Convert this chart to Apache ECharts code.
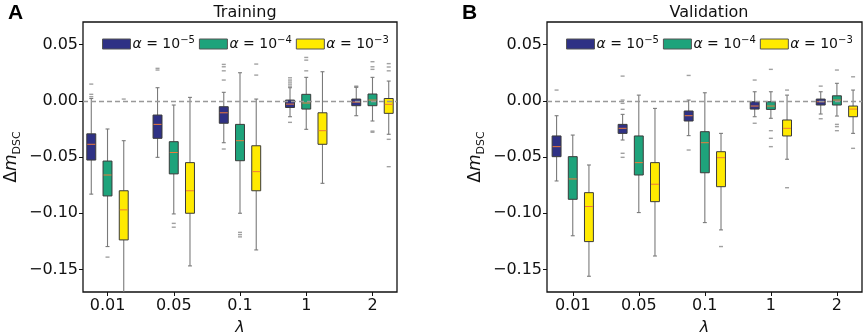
<!DOCTYPE html>
<html>
<head>
<meta charset="utf-8">
<script src="https://cdn.jsdelivr.net/npm/echarts@6/dist/echarts.min.js"></script>
<style>
  html, body { margin: 0; padding: 0; background: #fff; }
  #chart { width: 865px; height: 335px; }
</style>
</head>
<body>
<div id="chart"></div>
<script>
// lambda categories and alpha groups
var lambdas = ['0.01', '0.05', '0.1', '1', '2'];
var alphaExps = ['\u22125', '\u22124', '\u22123'];
var alphaColors = ['#2f3185', '#1ea37b', '#ffea00'];
var yTicks = [-0.15, -0.1, -0.05, 0, 0.05];

// box rows: [lowWhisker, q1, median, q3, highWhisker], one per lambda
var trainA5 = [
  [-0.083, -0.0527, -0.0387, -0.0294, 0.002],
  [-0.0503, -0.0334, -0.021, -0.0127, 0.0116],
  [-0.0373, -0.020, -0.0107, -0.0053, 0.0075],
  [-0.0142, -0.006, -0.003, 0.0006, 0.0116],
  [-0.0133, -0.0044, -0.0012, 0.0015, 0.0119]
];
var trainA4 = [
  [-0.1296, -0.0846, -0.066, -0.0536, -0.0251],
  [-0.1006, -0.065, -0.046, -0.0364, -0.0038],
  [-0.100, -0.0533, -0.0355, -0.021, 0.0249],
  [-0.0254, -0.0074, -0.002, 0.0057, 0.0208],
  [-0.018, -0.0044, 0.0006, 0.006, 0.0208]
];
var trainA3 = [
  [-0.18, -0.1237, -0.097, -0.080, -0.0355],
  [-0.1468, -0.100, -0.080, -0.055, 0.003],
  [-0.1326, -0.080, -0.063, -0.040, 0.0015],
  [-0.0734, -0.0387, -0.0266, -0.0107, 0.0258],
  [-0.0298, -0.0112, -0.0032, 0.002, 0.0175]
];
var valA5 = [
  [-0.0713, -0.0497, -0.0408, -0.0313, -0.0133],
  [-0.0349, -0.029, -0.0245, -0.021, -0.0121],
  [-0.031, -0.018, -0.0133, -0.0091, 0.0006],
  [-0.0142, -0.0074, -0.0047, -0.0009, 0.008],
  [-0.0118, -0.0038, -0.0009, 0.0015, 0.008]
];
var valA4 = [
  [-0.120, -0.0876, -0.0695, -0.0497, -0.0305],
  [-0.0994, -0.066, -0.055, -0.0313, 0.005],
  [-0.1083, -0.064, -0.0373, -0.0275, 0.0071],
  [-0.0156, -0.0077, -0.0047, -0.0009, 0.008],
  [-0.0136, -0.0038, 0.0006, 0.0044, 0.0155]
];
var valA3 = [
  [-0.156, -0.1252, -0.094, -0.0817, -0.0571],
  [-0.138, -0.0897, -0.0742, -0.055, -0.0068],
  [-0.1148, -0.0764, -0.0506, -0.0453, -0.029],
  [-0.052, -0.0313, -0.0245, -0.0171, 0.005],
  [-0.029, -0.0142, -0.0074, -0.0047, 0.0095]
];

// outliers: [lambdaIndex, value]
var trainOutA5 = [[0, 0.0148], [0, 0.0057], [0, 0.0036], [1, 0.0288], [1, 0.0273], [2, 0.0323], [2, 0.0302], [2, 0.0266], [2, 0.0184], [2, -0.0429],
  [3, 0.0204], [3, 0.0184], [3, 0.0166], [3, 0.0148], [3, 0.013], [3, -0.0192], [4, 0.013], [4, 0.0125]];
var trainOutA4 = [[0, -0.139], [1, -0.109], [1, -0.1124], [2, -0.117], [2, -0.119], [2, -0.121], [3, 0.0385], [3, 0.0361], [3, 0.0266],
  [4, 0.0347], [4, 0.0302], [4, 0.0279], [4, -0.027], [4, -0.028]];
var trainOutA3 = [[0, 0.0015], [2, 0.0326], [2, 0.0228], [4, 0.033], [4, 0.030], [4, 0.0266], [4, -0.0343], [4, -0.0586]];
var valOutA5 = [[0, 0.0095], [1, 0.0219], [1, 0.0006], [1, -0.0023], [1, -0.0076], [1, -0.0467], [1, -0.0503], [2, 0.0225], [2, -0.0438],
  [3, 0.0184], [3, -0.020], [4, 0.013], [4, -0.016]];
var valOutA4 = [[3, 0.0279], [3, -0.0266], [3, -0.0334], [3, -0.0408], [4, 0.0273], [4, -0.021], [4, -0.023], [4, -0.0266]];
var valOutA3 = [[2, -0.1296], [3, 0.0095], [3, -0.0773], [4, 0.0213], [4, -0.0423]];

var FONT = 'DejaVu Sans';
var groupOffset = [-0.245, 0, 0.245];
var boxW = 0.135;
var alphaNames = alphaExps.map(function (e) { return '\u03b1 = 10' + e; });

function fmtY(v) {
  return (v < -1e-9 ? '\u2212' : '') + Math.abs(v).toFixed(2);
}

function boxSeries(panel, k, rows) {
  return {
    type: 'custom', name: alphaNames[k], xAxisIndex: panel, yAxisIndex: panel,
    clip: true, z: 3,
    itemStyle: { color: alphaColors[k] },
    data: rows.map(function (r, i) { return [i].concat(r); }),
    renderItem: function (params, api) {
      var x = api.value(0) + groupOffset[k];
      var lo = api.coord([x, api.value(1)]);
      var q1 = api.coord([x, api.value(2)]);
      var md = api.coord([x, api.value(3)]);
      var q3 = api.coord([x, api.value(4)]);
      var hi = api.coord([x, api.value(5)]);
      var w = api.size([boxW, 0])[0];
      var cw = w * 0.22;
      var wl = { stroke: '#7a7a7a', lineWidth: 1.1 };
      return {
        type: 'group',
        children: [
          { type: 'line', shape: { x1: q3[0], y1: q3[1], x2: hi[0], y2: hi[1] }, style: wl },
          { type: 'line', shape: { x1: q1[0], y1: q1[1], x2: lo[0], y2: lo[1] }, style: wl },
          { type: 'line', shape: { x1: hi[0] - cw, y1: hi[1], x2: hi[0] + cw, y2: hi[1] }, style: wl },
          { type: 'line', shape: { x1: lo[0] - cw, y1: lo[1], x2: lo[0] + cw, y2: lo[1] }, style: wl },
          { type: 'rect', shape: { x: q3[0] - w / 2, y: q3[1], width: w, height: q1[1] - q3[1] },
            style: { fill: alphaColors[k], stroke: '#3a3a3a', lineWidth: 1 } },
          { type: 'line', shape: { x1: md[0] - w / 2 + 0.5, y1: md[1], x2: md[0] + w / 2 - 0.5, y2: md[1] },
            style: { stroke: '#ee7a3a', lineWidth: 1 } }
        ]
      };
    }
  };
}

function outlierSeries(panel, k, pts) {
  return {
    type: 'scatter', name: alphaNames[k], xAxisIndex: panel, yAxisIndex: panel,
    symbol: 'rect', symbolSize: [4, 1.4], z: 4, silent: true,
    itemStyle: { color: '#8a8a8a' },
    data: pts.map(function (p) { return [p[0] + groupOffset[k], p[1]]; })
  };
}

function zeroLine(panel) {
  return {
    type: 'line', xAxisIndex: panel, yAxisIndex: panel, data: [], z: 2, silent: true,
    markLine: {
      silent: true, symbol: 'none', label: { show: false },
      lineStyle: { color: '#999', type: [5, 3], width: 1.3 },
      data: [{ yAxis: 0 }]
    }
  };
}

function xAxisOpt(grid, mn, mx) {
  return {
    type: 'value', gridIndex: grid, min: mn, max: mx,
    name: '\u03bb', nameLocation: 'middle', nameGap: 28,
    nameTextStyle: { fontFamily: FONT, fontSize: 16, fontStyle: 'italic', color: '#111' },
    axisLine: { show: false, onZero: false },
    axisTick: { show: true, length: 4, customValues: [0, 1, 2, 3, 4], lineStyle: { color: '#111', width: 1 } },
    axisLabel: { customValues: [0, 1, 2, 3, 4], margin: 6, fontFamily: FONT, fontSize: 16, color: '#111',
      formatter: function (v) { return lambdas[Math.round(v)]; } },
    splitLine: { show: false }
  };
}

function yAxisOpt(grid) {
  return {
    type: 'value', gridIndex: grid, min: -0.17, max: 0.07,
    name: '\u0394{i|m}{s|DSC}', nameLocation: 'middle', nameRotate: 90, nameGap: 60,
    nameTextStyle: {
      fontFamily: FONT, fontSize: 17, color: '#111', lineHeight: 22,
      rich: {
        i: { fontFamily: FONT, fontSize: 17, fontStyle: 'italic', color: '#111', lineHeight: 22 },
        s: { fontFamily: FONT, fontSize: 11, color: '#111', verticalAlign: 'bottom', lineHeight: 13 }
      }
    },
    axisLine: { show: false, onZero: false },
    axisTick: { show: true, length: 4, customValues: yTicks, lineStyle: { color: '#111', width: 1 } },
    axisLabel: { customValues: yTicks, margin: 5, fontFamily: FONT, fontSize: 16, color: '#111', formatter: fmtY },
    splitLine: { show: false }
  };
}

function legendOpt(left) {
  return {
    left: left, top: 30, itemWidth: 28, itemHeight: 10, itemGap: 4, icon: 'rect',
    selectedMode: false, width: 320,
    data: alphaNames.map(function (n, k) {
      return { name: n, itemStyle: { color: alphaColors[k], borderColor: '#555', borderWidth: 1 } };
    }),
    formatter: function (n) {
      return '{i|\u03b1} = 10{p|' + n.slice(n.length - 2) + '}';
    },
    textStyle: {
      fontFamily: FONT, fontSize: 14, color: '#111', lineHeight: 18, padding: [0, 0, 0, -3],
      rich: {
        i: { fontFamily: FONT, fontSize: 14, fontStyle: 'italic', color: '#111', lineHeight: 18 },
        p: { fontFamily: FONT, fontSize: 10, color: '#111', verticalAlign: 'top', lineHeight: 12 }
      }
    }
  };
}

var series = [zeroLine(0), zeroLine(1)];
var trainBoxes = [trainA5, trainA4, trainA3];
var valBoxes = [valA5, valA4, valA3];
var trainOut = [trainOutA5, trainOutA4, trainOutA3];
var valOut = [valOutA5, valOutA4, valOutA3];
for (var k = 0; k < 3; k++) {
  series.push(boxSeries(0, k, trainBoxes[k]));
  series.push(outlierSeries(0, k, trainOut[k]));
  series.push(boxSeries(1, k, valBoxes[k]));
  series.push(outlierSeries(1, k, valOut[k]));
}

var chart = echarts.init(document.getElementById('chart'), null, { renderer: 'canvas' });
chart.setOption({
  animation: false,
  backgroundColor: '#fff',
  title: [
    { text: 'Training', left: 240, top: 0, textAlign: 'center', textStyle: { fontFamily: FONT, fontSize: 16, fontWeight: 'normal', color: '#111' } },
    { text: 'Validation', left: 704, top: 0, textAlign: 'center', textStyle: { fontFamily: FONT, fontSize: 16, fontWeight: 'normal', color: '#111' } },
    { text: 'A', left: 3, top: -2, textStyle: { fontFamily: 'Liberation Sans', fontSize: 21, fontWeight: 'bold', color: '#000' } },
    { text: 'B', left: 457, top: -2, textStyle: { fontFamily: 'Liberation Sans', fontSize: 21, fontWeight: 'bold', color: '#000' } }
  ],
  legend: [legendOpt(97), legendOpt(561)],
  grid: [
    { left: 83, top: 22, width: 314, height: 270, outerBoundsMode: 'none', show: true, borderColor: '#111', borderWidth: 1.3, backgroundColor: 'transparent' },
    { left: 547, top: 22, width: 315, height: 270, outerBoundsMode: 'none', show: true, borderColor: '#111', borderWidth: 1.3, backgroundColor: 'transparent' }
  ],
  xAxis: [xAxisOpt(0, -0.37, 4.37), xAxisOpt(1, -0.39, 4.38)],
  yAxis: [yAxisOpt(0), yAxisOpt(1)],
  series: series
});
</script>
</body>
</html>
